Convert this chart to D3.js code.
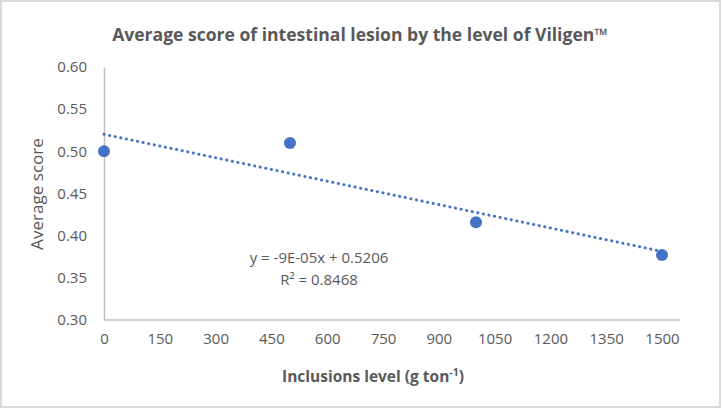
<!DOCTYPE html>
<html><head><meta charset="utf-8">
<script src="https://cdn.jsdelivr.net/npm/d3@7"></script>
<style>body{margin:0;background:#fff;}svg{display:block;}</style>
</head><body>
<svg id="c" width="722" height="410"></svg>
<script>
const titleText = "Average score of intestinal lesion by the level of Viligen™";
const xValues = [0, 500, 1000, 1500];
const yValues = [0.50, 0.510, 0.416, 0.377];
const xTicks = [0,150,300,450,600,750,900,1050,1200,1350,1500];
const yTicks = [0.30,0.35,0.40,0.45,0.50,0.55,0.60];
const eqLines = ["y = -9E-05x + 0.5206", "R² = 0.8468"];

const svg = d3.select("#c");
const font = "'Open Sans', sans-serif";
const grey = "#595959";

svg.append("rect").attr("x",1).attr("y",1).attr("width",719).attr("height",406)
  .attr("fill","#fff").attr("stroke","#d9d9d9").attr("stroke-width",2);

const x = d3.scaleLinear().domain([0,1500]).range([104,662]);
const y = d3.scaleLinear().domain([0.30,0.60]).range([320,67]);
const xAxisEnd = 680;

function fitText(sel, target){
  const w = sel.node().getComputedTextLength();
  const fs = parseFloat(sel.attr("font-size"));
  sel.attr("font-size", fs*target/w);
}

const title = svg.append("text").attr("x",360).attr("y",41).attr("text-anchor","middle")
  .attr("font-family",font).attr("font-weight","bold").attr("font-size",17)
  .attr("fill",grey).text(titleText);
fitText(title, 496);

// axes
const xa = svg.append("g").attr("transform",`translate(0,${y(0.30)})`)
  .call(d3.axisBottom(x).tickValues(xTicks).tickSize(0).tickPadding(13).tickFormat(d3.format("d")));
const ya = svg.append("g").attr("transform",`translate(${x(0)},0)`)
  .call(d3.axisLeft(y).tickValues(yTicks).tickSize(0).tickPadding(17).tickFormat(d3.format(".2f")));
[xa,ya].forEach(a=>{
  a.select(".domain").attr("stroke","#bfbfbf").attr("stroke-width",1.5);
  a.selectAll("text").attr("font-family",font).attr("font-size",15).attr("fill",grey);
});
xa.select(".domain").attr("d",`M${x(0)},0H${xAxisEnd}`);

// trendline (least squares from data)
const mx = d3.mean(xValues), my = d3.mean(yValues);
const slope = d3.sum(xValues,(v,i)=>(v-mx)*(yValues[i]-my))/d3.sum(xValues,v=>(v-mx)*(v-mx));
const icpt = my - slope*mx;
svg.append("line").attr("x1",x(0)).attr("y1",y(icpt)).attr("x2",x(1500)).attr("y2",y(icpt+slope*1500))
  .attr("stroke","#4472c4").attr("stroke-width",3).attr("stroke-dasharray","0.1,5.6").attr("stroke-linecap","round");

svg.selectAll("circle.pt").data(xValues).enter().append("circle")
  .attr("cx",(d)=>x(d)).attr("cy",(d,i)=>y(yValues[i])).attr("r",6).attr("fill","#4472c4");

svg.append("g").selectAll("text").data(eqLines).enter().append("text")
  .attr("x",319).attr("y",(d,i)=>263+i*22).attr("text-anchor","middle")
  .attr("font-family",font).attr("font-size",15).attr("fill",grey).text(d=>d);

const yl = svg.append("text").attr("transform","translate(43,194) rotate(-90)").attr("text-anchor","middle")
  .attr("font-family",font).attr("font-size",16).attr("fill",grey).text("Average score");
fitText(yl, 112);

const xt = svg.append("text").attr("x",373).attr("y",382).attr("text-anchor","middle")
  .attr("font-family",font).attr("font-weight","bold").attr("font-size",15.5).attr("fill",grey);
xt.append("tspan").text("Inclusions level (g ton");
xt.append("tspan").attr("dy",-6).attr("font-size",10.5).text("-1");
xt.append("tspan").attr("dy",6).text(")");
</script>
</body></html>
